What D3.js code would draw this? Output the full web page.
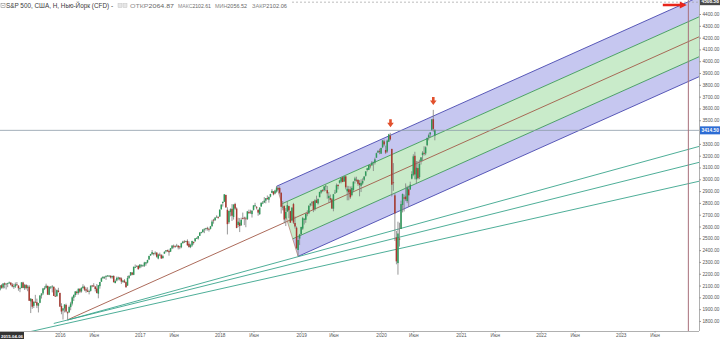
<!DOCTYPE html>
<html><head><meta charset="utf-8">
<script src="https://cdn.jsdelivr.net/npm/d3@7"></script>
<style>html,body{margin:0;padding:0;background:#fff;overflow:hidden}svg{display:block;font-family:"Liberation Sans",Arial,sans-serif}</style>
</head><body><svg id="c" width="720" height="339"></svg>
<script>
// ---- weekly OHLC data (S&P 500 CFD), first week 2015-04-06 ----
const firstWeek = "2015-04-06";
const ohlc2015 = [
[2064.87,2102.61,2056.52,2102.06],[2102,2111,2073,2081],[2083,2120,2073,2117],[2119,2126,2077,2108],
[2110,2120,2067,2116],[2115,2123,2086,2122],[2122,2134,2115,2126],[2125,2127,2099,2107],
[2108,2121,2085,2092],[2092,2115,2072,2094],[2092,2126,2080,2110],[2110,2130,2100,2102],[2099,2104,2056,2077],
[2075,2085,2044,2077],[2079,2128,2078,2127],[2126,2132,2077,2080],[2078,2114,2063,2104],
[2104,2113,2067,2078],[2080,2105,2052,2092],[2090,2103,1971,1971],[1966,1993,1867,1989],[1986,1987,1903,1921],
[1928,1971,1910,1961],[1963,2021,1953,1958],[1959,1989,1909,1931],[1929,1953,1872,1951],
[1954,2020,1951,2015],[2015,2034,1990,2033],[2033,2080,2020,2075],[2075,2094,2062,2079],
[2081,2116,2076,2099],[2097,2099,2022,2023],[2022,2093,2019,2089],[2090,2095,2070,2090],[2090,2104,2042,2092],
[2090,2091,2012,2012],[2013,2076,2005,2006],[2010,2067,2005,2061],[2058,2081,2043,2044]
];
const ohlc2016 = [
[2038,2038,1918,1922],[1926,1950,1857,1880],[1888,1908,1812,1907],[1906,1940,1872,1940],
[1936,1947,1872,1880],[1874,1881,1810,1865],[1872,1930,1872,1918],[1917,1962,1891,1948],
[1947,2009,1931,2000],[1997,2022,1969,2022],[2020,2053,2004,2050],[2048,2057,2022,2036],[2037,2075,2023,2073],
[2073,2075,2036,2048],[2050,2084,2040,2081],[2078,2111,2075,2092],[2089,2099,2053,2065],
[2068,2084,2039,2057],[2058,2085,2045,2047],[2047,2066,2025,2052],[2055,2100,2049,2099],[2100,2105,2085,2099],
[2100,2120,2089,2096],[2092,2093,2050,2071],[2075,2113,2033,2037],[2031,2103,1992,2103],
[2095,2131,2074,2130],[2132,2169,2132,2162],[2162,2176,2156,2175],[2173,2178,2156,2173],
[2174,2183,2148,2183],[2183,2189,2176,2184],[2184,2188,2172,2184],[2182,2187,2160,2169],[2170,2184,2158,2180],
[2181,2187,2127,2128],[2121,2152,2119,2139],[2143,2176,2135,2165],[2159,2175,2145,2168],
[2168,2169,2142,2153],[2160,2169,2114,2133],[2132,2147,2124,2141],[2142,2154,2125,2126],[2129,2133,2084,2085],
[2100,2182,2097,2164],[2165,2189,2156,2182],[2186,2214,2182,2213],[2210,2214,2187,2192],
[2191,2260,2188,2259],[2258,2278,2248,2258],[2260,2273,2259,2263],[2266,2273,2234,2239]
];
const ohlc2017 = [
[2252,2282,2245,2277],[2273,2279,2254,2275],[2269,2277,2258,2271],[2268,2301,2258,2295],[2286,2300,2268,2297],
[2295,2319,2288,2316],[2321,2352,2316,2351],[2354,2368,2352,2367],[2366,2401,2361,2383],
[2375,2378,2355,2372],[2372,2390,2357,2378],[2379,2382,2336,2344],[2329,2370,2322,2363],
[2363,2379,2349,2355],[2357,2366,2328,2329],[2333,2361,2327,2349],[2370,2392,2370,2384],
[2389,2400,2380,2399],[2400,2404,2385,2391],[2393,2406,2353,2382],[2387,2418,2384,2416],[2415,2440,2408,2439],
[2437,2447,2415,2432],[2434,2441,2419,2433],[2437,2453,2431,2438],[2437,2443,2406,2423],
[2431,2436,2408,2425],[2424,2463,2416,2459],[2458,2479,2458,2472],[2473,2484,2461,2472],[2475,2480,2467,2476],
[2478,2491,2437,2441],[2454,2475,2421,2426],[2426,2454,2417,2443],[2440,2480,2429,2477],
[2470,2471,2447,2461],[2474,2500,2474,2500],[2502,2509,2496,2502],[2499,2520,2489,2519],
[2521,2552,2521,2549],[2551,2556,2541,2553],[2553,2576,2547,2575],[2578,2583,2544,2581],[2582,2589,2566,2587],
[2588,2598,2566,2582],[2580,2590,2557,2579],[2580,2605,2575,2602],[2603,2657,2598,2642],
[2657,2665,2624,2652],[2653,2680,2649,2675],[2680,2695,2676,2683],[2680,2687,2666,2674]
];
const ohlc2018 = [
[2684,2744,2683,2743],[2745,2787,2745,2786],[2799,2808,2769,2810],[2810,2873,2808,2873],[2867,2870,2759,2762],
[2742,2763,2533,2620],[2636,2734,2622,2732],[2722,2754,2686,2747],[2750,2790,2647,2691],
[2681,2787,2659,2786],[2791,2801,2742,2752],[2752,2762,2585,2588],[2613,2674,2594,2641],
[2633,2672,2553,2604],[2611,2675,2605,2656],[2671,2718,2660,2670],[2675,2683,2612,2670],[2668,2682,2594,2663],
[2664,2732,2655,2728],[2722,2743,2707,2713],[2726,2742,2707,2721],[2705,2736,2676,2735],
[2741,2779,2736,2779],[2780,2801,2765,2780],[2763,2774,2744,2755],[2742,2745,2691,2718],
[2705,2764,2698,2760],[2769,2804,2768,2801],[2797,2816,2789,2802],[2804,2849,2799,2819],[2819,2841,2796,2840],
[2840,2863,2826,2833],[2827,2855,2802,2850],[2853,2877,2847,2875],[2885,2917,2883,2902],
[2897,2900,2864,2872],[2880,2912,2873,2905],[2896,2941,2886,2930],[2925,2940,2904,2914],
[2926,2940,2874,2886],[2886,2889,2710,2767],[2764,2816,2737,2768],[2773,2779,2628,2659],[2669,2756,2604,2723],
[2727,2815,2723,2781],[2773,2776,2671,2736],[2730,2733,2631,2633],[2650,2763,2649,2760],
[2790,2800,2621,2633],[2630,2685,2583,2600],[2590,2601,2409,2417],[2401,2520,2347,2486],[2498,2538,2443,2532]
];
const ohlc2019 = [
[2535,2598,2525,2596],[2582,2681,2571,2671],[2657,2671,2617,2665],[2657,2716,2631,2707],
[2712,2738,2687,2708],[2712,2780,2705,2776],[2780,2798,2769,2793],[2799,2814,2775,2804],
[2814,2817,2722,2743],[2747,2831,2734,2822],[2823,2861,2800,2800],[2796,2836,2786,2834],
[2848,2894,2848,2893],[2888,2910,2877,2907],[2909,2917,2891,2905],[2908,2940,2896,2940],[2941,2955,2900,2946],
[2908,2943,2836,2881],[2840,2892,2801,2860],[2841,2871,2805,2826],[2830,2841,2750,2752],
[2751,2876,2729,2873],[2885,2911,2877,2887],[2889,2964,2884,2950],[2952,2959,2914,2942],
[2971,2996,2963,2990],[2980,3014,2966,3014],[3018,3018,2975,2977],[2982,3028,2977,3025],[3025,3030,2914,2932],
[2898,2945,2822,2919],[2916,2944,2822,2889],[2913,2939,2834,2847],[2866,2940,2856,2926],
[2910,2985,2891,2979],[2988,3021,2964,3007],[2996,3022,2979,2992],[2994,3002,2945,2962],[2968,2993,2856,2952],
[2945,3000,2892,2970],[2965,3008,2953,2986],[2996,3027,2985,3023],[3030,3067,3023,3067],
[3079,3097,3066,3093],[3080,3120,3078,3120],[3117,3127,3092,3110],[3117,3154,3117,3141],
[3143,3150,3070,3146],[3141,3183,3125,3169],[3183,3226,3183,3221],[3226,3248,3224,3240],[3240,3259,3212,3235]
];
const ohlc2020 = [
[3217,3268,3214,3265],[3271,3330,3264,3330],[3321,3337,3280,3295],[3248,3285,3214,3226],
[3235,3337,3224,3328],[3318,3385,3315,3380],[3370,3393,3328,3338],[3257,3259,2855,2954],
[2974,3137,2902,2972],[2864,2882,2478,2711],[2508,2562,2280,2305],[2290,2641,2192,2541],[2498,2632,2430,2489],
[2579,2819,2579,2790],[2782,2880,2719,2875],[2846,2871,2727,2837],[2854,2965,2815,2831],
[2815,2945,2798,2930],[2915,2945,2766,2864],[2914,2980,2910,2955],[3005,3068,2999,3044],
[3038,3212,3026,3194],[3199,3233,2999,3041],[3000,3155,2966,3098],[3095,3154,2999,3009],[3018,3166,3001,3130],
[3155,3188,3125,3185],[3205,3238,3153,3225],[3224,3280,3201,3216],[3219,3279,3204,3271],
[3289,3352,3280,3351],[3356,3387,3330,3373],[3380,3399,3355,3397],[3419,3509,3410,3508],[3509,3588,3403,3427],
[3370,3425,3330,3414.5]
];

// ---- axis ticks (3400 and 4500 are hidden behind the price tags in the reference) ----
const yTicks = [1800,1900,2000,2100,2200,2300,2400,2500,2600,2700,2800,2900,3000,3100,3200,3300,3500,3600,3700,3800,3900,4000,4100,4200,4300,4400];
const xTickDates = ["2016-01-04","2016-06-06","2017-01-02","2017-06-05","2018-01-01","2018-06-04","2019-01-07","2019-06-03","2020-01-06","2020-06-01","2021-01-04","2021-06-07","2022-01-03","2022-06-06","2023-01-02","2023-06-05"];
const xTickLabels = ["2016","Июн","2017","Июн","2018","Июн","2019","Июн","2020","Июн","2021","Июн","2022","Июн","2023","Июн"];

// ---- header / markers ----
const titleText = "S&P 500, США, Н, Нью-Йорк (CFD) -";
const headerLabels = ["ОТКР","МАКС","МИН","ЗАКР"];
const lastPrice = 3414.50;
const topLevel = 4508.58;
const crosshairDate = "2015-04-06";

// ---- drawings (date, price) ----
const pitchA = ["2016-02-08", 1810];
const pitchB = ["2018-09-17", 2941];
const pitchC = ["2018-12-24", 2347];
const fanStarts = [["2016-02-08",1808],["2015-12-07",1779],["2015-07-06",1690]];
const fanEnds   = [["2024-02-05",3300],["2024-02-05",3163],["2024-02-05",3001]];
const vLineDate = "2023-11-06";
const downArrows = [["2020-02-18",3440],["2020-08-31",3630]];
const rightArrow = ["2023-10-30",4476];

// ================= drawing =================
const svg = d3.select("#c");
const W = 720, H = 339, plotR = 699, plotB = 331;
const pd = s => new Date(s + "T00:00:00Z");
const x = d3.scaleUtc().domain([pd("2015-04-06"), pd("2024-02-05")]).range([0, 461*1.5365]);
const y = d3.scaleLinear().domain([1715, 4400]).range([plotB, 14]);

const allBars = [].concat(ohlc2015, ohlc2016, ohlc2017, ohlc2018, ohlc2019, ohlc2020);
const t0 = pd(firstWeek).getTime();
const candles = allBars.map((d,i)=>({date:new Date(t0 + i*7*864e5), o:d[0], h:d[1], l:d[2], c:d[3]}));

svg.append("rect").attr("width",W).attr("height",H).attr("fill","#fff");
svg.append("defs").append("clipPath").attr("id","plot").append("rect")
  .attr("x",0).attr("y",0).attr("width",plotR).attr("height",plotB);

const plot = svg.append("g").attr("clip-path","url(#plot)");
const P = d => [x(pd(d[0])), y(d[1])];

// pitchfork
const A = P(pitchA), B = P(pitchB), C = P(pitchC);
const M = [(B[0]+C[0])/2, (B[1]+C[1])/2];
const dx = M[0]-A[0], dy = M[1]-A[1];
const ext = p => { const t = (730 - p[0]) / dx; return [p[0]+t*dx, p[1]+t*dy]; };
const UB = [(B[0]+M[0])/2, (B[1]+M[1])/2];
const LB = [(C[0]+M[0])/2, (C[1]+M[1])/2];
const poly = pts => "M" + pts.map(p=>p.join(",")).join("L") + "Z";
plot.append("path").attr("d", poly([B, ext(B), ext(UB), UB])).attr("fill","#c6c7f0");
plot.append("path").attr("d", poly([UB, ext(UB), ext(LB), LB])).attr("fill","#c9ebca");
plot.append("path").attr("d", poly([LB, ext(LB), ext(C), C])).attr("fill","#c6c7f0");

const line = (p,q,col,w) => plot.append("line").attr("x1",p[0]).attr("y1",p[1]).attr("x2",q[0]).attr("y2",q[1])
  .attr("stroke",col).attr("stroke-width",w||0.9);
line(B, ext(B), "#4848b0");
line(C, ext(C), "#4848b0");
line(UB, ext(UB), "#3c9a58");
line(LB, ext(LB), "#3c9a58");
line(A, ext(M), "#a35a48");
line(B, C, "#b0786a", 0.7);

// fan lines
fanStarts.forEach((s,i)=> line(P(s), P(fanEnds[i]), "#3aa58c", 0.9));

// last price line
plot.append("line").attr("x1",0).attr("x2",plotR).attr("y1",y(lastPrice)).attr("y2",y(lastPrice))
  .attr("stroke","#8c9aa8").attr("stroke-width",0.8);

// candles
const cg = plot.append("g");
cg.selectAll("line.w").data(candles).join("line")
  .attr("x1",d=>x(d.date)).attr("x2",d=>x(d.date)).attr("y1",d=>y(d.h)).attr("y2",d=>y(d.l))
  .attr("stroke","#7d7d7d").attr("stroke-width",0.8);
cg.selectAll("rect").data(candles).join("rect")
  .attr("x",d=>x(d.date)-0.75).attr("width",1.5)
  .attr("y",d=>y(Math.max(d.o,d.c))).attr("height",d=>Math.max(0.8, Math.abs(y(d.o)-y(d.c))))
  .attr("fill",d=>d.c>=d.o ? "#2e9a5a" : "#a8382e");

// vertical line
plot.append("line").attr("x1",x(pd(vLineDate))).attr("x2",x(pd(vLineDate))).attr("y1",0).attr("y2",plotB)
  .attr("stroke","#a8707a").attr("stroke-width",1);

// top dashed level
svg.append("line").attr("x1",0).attr("x2",plotR).attr("y1",y(topLevel)+1).attr("y2",y(topLevel)+1)
  .attr("stroke","#a0a0a0").attr("stroke-width",0.7).attr("stroke-dasharray","2,2");

// arrows
downArrows.forEach(a=>{
  const [ax, ay] = P(a);
  svg.append("path").attr("fill","#e2502c")
    .attr("d",`M${ax-1.3},${ay-8}L${ax+1.3},${ay-8}L${ax+1.3},${ay-4.5}L${ax+3.3},${ay-4.5}L${ax},${ay}L${ax-3.3},${ay-4.5}L${ax-1.3},${ay-4.5}Z`);
});
{
  const [ax, ay] = P(rightArrow);
  svg.append("path").attr("fill","#e8261c")
    .attr("d",`M${ax-24},${ay-1.3}L${ax-7},${ay-1.3}L${ax-7},${ay-3.5}L${ax},${ay}L${ax-7},${ay+3.5}L${ax-7},${ay+1.3}L${ax-24},${ay+1.3}Z`);
}

// axes
const yAxis = svg.append("g").attr("transform",`translate(${plotR},0)`)
  .call(d3.axisRight(y).tickValues(yTicks).tickFormat(d3.format(".2f")).tickSize(2).tickPadding(1.5));
yAxis.select(".domain").attr("stroke","#b0b0b0").attr("d",`M0.5,0V${plotB}`);
yAxis.selectAll(".tick line").attr("stroke","#999");
yAxis.selectAll("text").attr("font-size",4.7).attr("fill","#555").attr("font-family","Liberation Sans, Arial");

const xAxis = svg.append("g").attr("transform",`translate(0,${plotB})`)
  .call(d3.axisBottom(x).tickValues(xTickDates.map(pd)).tickFormat((d,i)=>xTickLabels[i]).tickSize(1.5).tickPadding(1));
xAxis.select(".domain").attr("stroke","#b0b0b0").attr("d",`M0,0.5H${plotR}`);
xAxis.selectAll(".tick line").attr("stroke","#999");
xAxis.selectAll("text").attr("font-size",4.7).attr("fill","#555").attr("font-family","Liberation Sans, Arial");

// price labels on axis
const tag = (val, bg, yy) => {
  svg.append("rect").attr("x",plotR+1).attr("y",yy-4).attr("width",W-plotR-1).attr("height",8).attr("fill",bg);
  svg.append("text").attr("x",plotR+2.5).attr("y",yy+1.7).attr("font-size",4.8).attr("font-weight","bold")
    .attr("fill","#fff").text(d3.format(".2f")(val));
};
tag(lastPrice, "#2d6cd4", y(lastPrice));
tag(topLevel, "#4a4a4a", y(topLevel));

// crosshair date label
svg.append("rect").attr("x",0).attr("y",plotB+1).attr("width",24).attr("height",8).attr("fill","#333");
svg.append("text").attr("x",1).attr("y",plotB+6.6).attr("font-size",4.4).attr("fill","#fff").attr("font-weight","bold")
  .attr("textLength",22).attr("lengthAdjust","spacingAndGlyphs").text(crosshairDate);

// header
svg.append("rect").attr("x",0).attr("y",0).attr("width",292).attr("height",11).attr("fill","#fff");
svg.append("rect").attr("x",1).attr("y",3.5).attr("width",4).attr("height",4).attr("fill","none").attr("stroke","#777").attr("stroke-width",0.5);
svg.append("line").attr("x1",2).attr("x2",4).attr("y1",5.5).attr("y2",5.5).attr("stroke","#777").attr("stroke-width",0.5);
svg.append("text").attr("x",6).attr("y",8.2).attr("font-size",6.4).attr("fill","#3a3a3a")
  .attr("textLength",107).attr("lengthAdjust","spacingAndGlyphs").text(titleText);
[118,123].forEach(px=>svg.append("rect").attr("x",px).attr("y",3.5).attr("width",4).attr("height",4)
  .attr("fill","#e6e6e6").attr("stroke","#bbb").attr("stroke-width",0.4));
const first = ohlc2015[0];
const hx = [130,178,215,252], hw = [44,33,32,35];
headerLabels.forEach((lab,i)=>{
  const t = svg.append("text").attr("x",hx[i]).attr("y",8).attr("font-size",5.4).attr("fill","#888")
    .attr("textLength",hw[i]).attr("lengthAdjust","spacingAndGlyphs");
  t.append("tspan").text(lab);
  t.append("tspan").attr("fill","#666").text(d3.format(".2f")(first[i]));
});
</script></body></html>
